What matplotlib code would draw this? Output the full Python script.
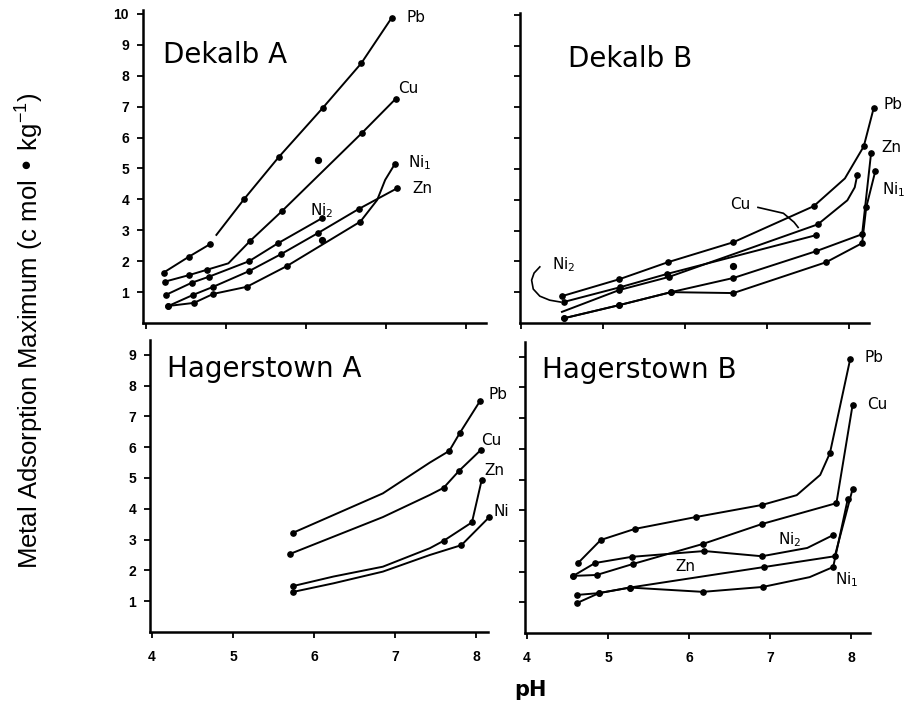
import matplotlib
matplotlib.use("Agg")
import matplotlib.pyplot as plt

plt.rcParams['font.family'] = ['DejaVu Sans']
plt.rcParams['mathtext.default'] = 'regular'

# ---------------- data (pH, adsorption maximum) ----------------
PH_TICKS = [4, 5, 6, 7, 8]
Y_TICKS_TOP = [1, 2, 3, 4, 5, 6, 7, 8, 9, 10]
Y_TICKS_BOT = [1, 2, 3, 4, 5, 6, 7, 8, 9]

# Dekalb A
DA_PB1_PH = [4.22, 4.54, 4.80]
DA_PB1 = [1.63, 2.15, 2.55]
DA_PB2_PH = [4.88, 5.23, 5.66, 6.21, 6.69, 7.07]
DA_PB2 = [2.85, 4.02, 5.37, 6.96, 8.40, 9.87]
DA_PB2_MARK = [1, 2, 3, 4, 5]
DA_CU_PH = [4.24, 4.54, 4.76, 5.03, 5.30, 5.70, 6.70, 7.12]
DA_CU = [1.34, 1.55, 1.72, 1.93, 2.65, 3.62, 6.15, 7.25]
DA_CU_MARK = [0, 1, 2, 4, 5, 6, 7]
DA_CU_STRAY = ([6.15], [5.27])
DA_NI2_PH = [4.25, 4.57, 4.79, 5.29, 5.65, 6.20]
DA_NI2 = [0.91, 1.30, 1.50, 2.00, 2.58, 3.39]
DA_ZN_PH = [4.28, 4.59, 4.84, 5.29, 5.69, 6.15, 6.66, 7.14]
DA_ZN = [0.55, 0.91, 1.17, 1.68, 2.23, 2.91, 3.69, 4.36]
DA_NI1_PH = [4.28, 4.60, 4.84, 5.26, 5.76, 6.68, 6.89, 6.99, 7.11]
DA_NI1 = [0.55, 0.65, 0.94, 1.17, 1.84, 3.28, 3.98, 4.63, 5.14]
DA_NI1_MARK = [0, 1, 2, 3, 4, 5, 8]
DA_NI1_STRAY = ([6.20], [2.69])

# Dekalb B
DB_PB_PH = [4.50, 5.20, 5.79, 6.59, 7.57, 7.95, 8.18, 8.30]
DB_PB = [0.87, 1.42, 1.97, 2.62, 3.79, 4.69, 5.73, 6.96]
DB_PB_MARK = [0, 1, 2, 3, 4, 6, 7]
DB_CU_PH = [4.50, 5.20, 5.80, 7.62, 7.98, 8.07, 8.10]
DB_CU = [0.36, 1.07, 1.49, 3.20, 3.98, 4.40, 4.79]
DB_CU_MARK = [1, 2, 3, 6]
DB_NI2_PH = [4.52, 5.21, 5.78, 7.60]
DB_NI2 = [0.68, 1.16, 1.59, 2.85]
DB_NI2_STRAY = ([6.59], [1.85])
DB_ZN_PH = [4.52, 5.20, 5.83, 6.59, 7.60, 8.16, 8.27]
DB_ZN = [0.15, 0.58, 1.00, 1.46, 2.33, 2.88, 5.53]
DB_NI1_PH = [4.52, 5.20, 5.83, 6.59, 7.72, 8.16, 8.21, 8.32]
DB_NI1 = [0.15, 0.58, 1.00, 0.97, 1.97, 2.59, 3.75, 4.92]
DB_CU_LEADER = ([6.89, 7.20, 7.33, 7.38], [3.75, 3.56, 3.27, 3.10])
DB_NI2_LEADER = ([4.23, 4.16, 4.13, 4.15, 4.23, 4.35, 4.48],
                 [1.82, 1.62, 1.39, 1.10, 0.87, 0.74, 0.68])

# Hagerstown A
HA_PB_PH = [5.74, 6.85, 7.43, 7.67, 7.80, 8.05]
HA_PB = [3.22, 4.50, 5.50, 5.88, 6.46, 7.50]
HA_CU_PH = [5.70, 6.85, 7.43, 7.60, 7.79, 8.06]
HA_CU = [2.53, 3.73, 4.45, 4.68, 5.23, 5.91]
HA_ZN_PH = [5.74, 6.24, 6.85, 7.43, 7.60, 7.95, 8.07]
HA_ZN = [1.49, 1.80, 2.12, 2.72, 2.96, 3.56, 4.93]
HA_NI_PH = [5.74, 6.24, 6.85, 7.43, 7.82, 8.16]
HA_NI = [1.30, 1.58, 1.96, 2.50, 2.82, 3.72]
HA_MARK4 = [0, 3, 4, 5]
HA_ZN_MARK = [0, 4, 5, 6]
HA_NI_MARK = [0, 4, 5]

# Hagerstown B
HB_PB_PH = [4.63, 4.91, 5.33, 6.09, 6.90, 7.33, 7.62, 7.74, 7.99]
HB_PB = [2.28, 3.03, 3.39, 3.78, 4.17, 4.49, 5.15, 5.86, 8.92]
HB_PB_MARK = [0, 1, 2, 3, 4, 7, 8]
HB_CU_PH = [4.57, 4.86, 5.31, 6.17, 6.90, 7.82, 8.02]
HB_CU = [1.86, 1.89, 2.25, 2.90, 3.55, 4.23, 7.43]
HB_NI2_PH = [4.57, 4.84, 5.29, 6.19, 6.90, 7.46, 7.78]
HB_NI2 = [1.86, 2.28, 2.48, 2.67, 2.50, 2.77, 3.19]
HB_NI2_MARK = [0, 1, 2, 3, 4, 6]
HB_ZN_PH = [4.62, 4.89, 5.27, 6.93, 7.80, 8.02]
HB_ZN = [1.24, 1.30, 1.48, 2.15, 2.50, 4.69]
HB_NI1_PH = [4.62, 4.89, 5.27, 6.17, 6.91, 7.49, 7.78, 7.96]
HB_NI1 = [0.98, 1.30, 1.48, 1.34, 1.50, 1.82, 2.15, 4.36]
HB_NI1_MARK = [0, 1, 2, 3, 4, 6, 7]

# ---------------- drawing ----------------
LW = 1.4
MS = 3.8
TICK_FONT = ['Liberation Sans', 'DejaVu Sans']
fig = plt.figure(figsize=(9.19, 7.15), dpi=100)


def make_ax(rect, xlim, ylim, yticks, ylabels, xlabels):
    ax = fig.add_axes(rect)
    ax.set_xlim(*xlim)
    ax.set_ylim(*ylim)
    for s in ('top', 'right'):
        ax.spines[s].set_visible(False)
    for s in ('left', 'bottom'):
        ax.spines[s].set_linewidth(1.8)
    ax.set_xticks(PH_TICKS)
    ax.set_yticks(yticks)
    ax.tick_params(direction='out', length=4, width=1.3, pad=6)
    if not ylabels:
        ax.set_yticklabels([])
    else:
        ax.set_yticklabels([str(t) for t in yticks], fontsize=10,
                           fontweight='bold', family=TICK_FONT)
    if not xlabels:
        ax.set_xticklabels([])
    else:
        ax.set_xticklabels([str(t) for t in PH_TICKS], fontsize=10,
                           fontweight='bold', family=TICK_FONT)
        ax.tick_params(axis='x', pad=9)
    return ax


def curve(ax, x, y, mark=None):
    ax.plot(x, y, '-', color='black', lw=LW, marker='o', ms=MS,
            markevery=mark, clip_on=False)


def stray(ax, pts):
    ax.plot(pts[0], pts[1], 'o', color='black', ms=MS + 0.4, clip_on=False)


def lab(ax, x, y, s):
    ax.text(x, y, s, fontsize=11, va='center', ha='left', clip_on=False)


def title(ax, x, y, s):
    ax.text(x, y, s, fontsize=20, transform=ax.transAxes, va='center', ha='left')


# Dekalb A
ax1 = make_ax([0.1556, 0.5483, 0.3732, 0.4378], (3.9625, 8.25), (0, 10.13),
              Y_TICKS_TOP, True, False)
curve(ax1, DA_PB1_PH, DA_PB1)
curve(ax1, DA_PB2_PH, DA_PB2, DA_PB2_MARK)
curve(ax1, DA_CU_PH, DA_CU, DA_CU_MARK)
stray(ax1, DA_CU_STRAY)
curve(ax1, DA_NI2_PH, DA_NI2)
curve(ax1, DA_ZN_PH, DA_ZN)
curve(ax1, DA_NI1_PH, DA_NI1, DA_NI1_MARK)
stray(ax1, DA_NI1_STRAY)
title(ax1, 0.058, 0.856, 'Dekalb A')
lab(ax1, 7.26, 9.87, 'Pb')
lab(ax1, 7.15, 7.60, 'Cu')
lab(ax1, 7.28, 5.18, 'Ni$_1$')
lab(ax1, 7.33, 4.36, 'Zn')
lab(ax1, 6.05, 3.62, 'Ni$_2$')

# Dekalb B
ax2 = make_ax([0.5658, 0.5483, 0.3798, 0.4336], (3.988, 8.244), (0, 10.06),
              Y_TICKS_TOP, False, False)
curve(ax2, DB_PB_PH, DB_PB, DB_PB_MARK)
curve(ax2, DB_CU_PH, DB_CU, DB_CU_MARK)
curve(ax2, DB_NI2_PH, DB_NI2)
stray(ax2, DB_NI2_STRAY)
curve(ax2, DB_ZN_PH, DB_ZN)
curve(ax2, DB_NI1_PH, DB_NI1)
ax2.plot(*DB_CU_LEADER, color='black', lw=1.2)
ax2.plot(*DB_NI2_LEADER, color='black', lw=1.2, clip_on=False)
title(ax2, 0.1375, 0.852, 'Dekalb B')
lab(ax2, 8.42, 7.08, 'Pb')
lab(ax2, 8.40, 5.68, 'Zn')
lab(ax2, 8.40, 4.32, 'Ni$_1$')
lab(ax2, 6.55, 3.83, 'Cu')
lab(ax2, 4.38, 1.88, 'Ni$_2$')

# Hagerstown A
ax3 = make_ax([0.1632, 0.1161, 0.3678, 0.4084], (3.975, 8.148), (0, 9.48),
              Y_TICKS_BOT, True, True)
curve(ax3, HA_PB_PH, HA_PB, HA_MARK4)
curve(ax3, HA_CU_PH, HA_CU, HA_MARK4)
curve(ax3, HA_ZN_PH, HA_ZN, HA_ZN_MARK)
curve(ax3, HA_NI_PH, HA_NI, HA_NI_MARK)
title(ax3, 0.05, 0.90, 'Hagerstown A')
lab(ax3, 8.15, 7.70, 'Pb')
lab(ax3, 8.06, 6.23, 'Cu')
lab(ax3, 8.10, 5.23, 'Zn')
lab(ax3, 8.22, 3.90, 'Ni')

# Hagerstown B
ax4 = make_ax([0.5713, 0.1147, 0.3754, 0.4070], (3.975, 8.235), (0, 9.48),
              Y_TICKS_BOT, False, True)
curve(ax4, HB_PB_PH, HB_PB, HB_PB_MARK)
curve(ax4, HB_CU_PH, HB_CU)
curve(ax4, HB_NI2_PH, HB_NI2, HB_NI2_MARK)
curve(ax4, HB_ZN_PH, HB_ZN)
curve(ax4, HB_NI1_PH, HB_NI1, HB_NI1_MARK)
title(ax4, 0.049, 0.904, 'Hagerstown B')
lab(ax4, 8.17, 8.99, 'Pb')
lab(ax4, 8.20, 7.43, 'Cu')
lab(ax4, 7.10, 3.03, 'Ni$_2$')
lab(ax4, 5.83, 2.15, 'Zn')
lab(ax4, 7.80, 1.73, 'Ni$_1$')

fig.text(0.033, 0.538, 'Metal Adsorption Maximum (c mol \u2022 kg$^{-1}$)',
         rotation=90, va='center', ha='center', fontsize=18.5,
         family=['Liberation Sans Narrow', 'Liberation Sans', 'DejaVu Sans'])
fig.text(0.577, 0.035, 'pH', fontsize=15, fontweight='bold',
         va='center', ha='center')

fig.savefig('out.png', dpi=100)
